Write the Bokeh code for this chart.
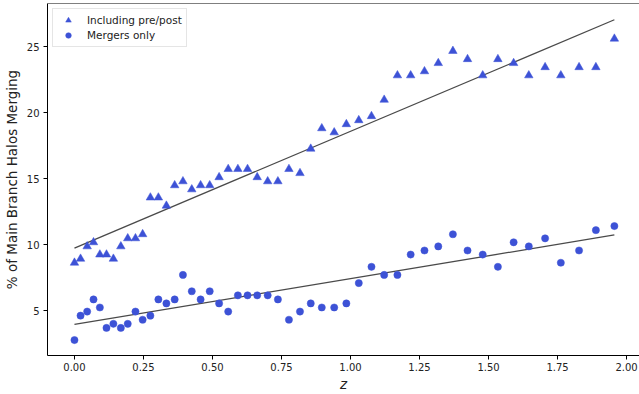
from bokeh.plotting import figure
from bokeh.models import Range1d, FixedTicker, PrintfTickFormatter, Span, Legend, LegendItem
from bokeh.embed import file_html
from bokeh.resources import INLINE

# ---- data ----
z = [0.000, 0.022, 0.046, 0.069, 0.092, 0.116, 0.141, 0.168, 0.193, 0.221,
     0.247, 0.275, 0.304, 0.333, 0.363, 0.393, 0.425, 0.457, 0.490, 0.524,
     0.557, 0.592, 0.627, 0.662, 0.700, 0.737, 0.777, 0.817, 0.856, 0.896,
     0.941, 0.985, 1.030, 1.076, 1.122, 1.170, 1.218, 1.268, 1.318, 1.371,
     1.424, 1.479, 1.534, 1.591, 1.646, 1.705, 1.762, 1.828, 1.889, 1.956]

including_prepost = [8.64, 8.94, 9.88, 10.19, 9.26, 9.26, 8.94, 9.88, 10.49, 10.49,
                     10.80, 13.58, 13.58, 12.96, 14.51, 14.81, 14.20, 14.51, 14.51, 15.12,
                     15.74, 15.74, 15.74, 15.12, 14.81, 14.81, 15.74, 15.43, 17.28, 18.83,
                     18.52, 19.14, 19.44, 19.75, 20.99, 22.84, 22.84, 23.15, 23.77, 24.69,
                     24.07, 22.84, 24.07, 23.77, 22.84, 23.46, 22.84, 23.46, 23.46, 25.62]

mergers_only = [2.78, 4.63, 4.94, 5.86, 5.25, 3.70, 4.01, 3.70, 4.01, 4.94,
                4.32, 4.63, 5.86, 5.56, 5.86, 7.72, 6.48, 5.86, 6.48, 5.56,
                4.94, 6.17, 6.17, 6.17, 6.17, 5.86, 4.32, 4.94, 5.56, 5.25,
                5.25, 5.56, 7.10, 8.33, 7.72, 7.72, 9.26, 9.57, 9.88, 10.80,
                9.57, 9.26, 8.33, 10.19, 9.88, 10.49, 8.64, 9.57, 11.11, 11.42]

fit_z = [0.0, 1.956]
fit_including = [9.75, 27.06]
fit_mergers = [3.97, 10.75]

x_ticks = [0.0, 0.25, 0.5, 0.75, 1.0, 1.25, 1.5, 1.75, 2.0]
y_ticks = [5, 10, 15, 20, 25]

labels = ["Including pre/post", "Mergers only"]

# ---- figure ----
BLUE = "#3d52d6"
FONT = "DejaVu Sans"

y_lo, y_hi = 1.61, 28.29
p = figure(width=639, height=394, output_backend="svg", toolbar_location=None,
           x_range=Range1d(-0.0977, 2.047), y_range=Range1d(y_lo, y_hi),
           min_border_left=46, min_border_right=0, min_border_top=3, min_border_bottom=37)
p.outline_line_color = None
p.xgrid.visible = False
p.ygrid.visible = False
p.background_fill_color = "white"
p.border_fill_color = "white"

p.line(fit_z, fit_including, line_color="#4a4a4a", line_width=1.3)
p.line(fit_z, fit_mergers, line_color="#4a4a4a", line_width=1.3)

r_tri = p.scatter(z, including_prepost, marker="triangle", size=8.5,
                  fill_color=BLUE, line_color=BLUE, line_width=0.5)
r_cir = p.scatter(z, mergers_only, marker="circle", size=7.2,
                  fill_color=BLUE, line_color=BLUE, line_width=0.5)

top = Span(location=y_hi, dimension="width", line_color="black", line_width=1.2)
p.add_layout(top)

for ax in (p.xaxis[0], p.yaxis[0]):
    ax.axis_line_color = "black"
    ax.axis_line_width = 1
    ax.major_tick_line_color = "black"
    ax.major_tick_out = 4
    ax.major_tick_in = 0
    ax.minor_tick_line_color = None
    ax.major_label_text_font = FONT
    ax.major_label_text_font_size = "10px"
    ax.major_label_text_color = "#222222"
    ax.axis_label_text_font = FONT
    ax.axis_label_text_font_size = "13.5px"
    ax.axis_label_text_color = "#222222"

p.xaxis.ticker = FixedTicker(ticks=x_ticks)
p.xaxis.formatter = PrintfTickFormatter(format="%.2f")
p.xaxis.major_label_standoff = 3
p.xaxis.axis_label = "z"
p.xaxis.axis_label_text_font_style = "italic"
p.xaxis.axis_label_standoff = 2

p.yaxis.ticker = FixedTicker(ticks=y_ticks)
p.yaxis.major_label_standoff = 4
p.yaxis.axis_label = "% of Main Branch Halos Merging"
p.yaxis.axis_label_text_font_style = "normal"
p.yaxis.axis_label_standoff = 4

legend = Legend(items=[LegendItem(label=labels[0], renderers=[r_tri]),
                       LegendItem(label=labels[1], renderers=[r_cir])],
                location="top_left")
legend.margin = 5
legend.padding = 4
legend.spacing = 1
legend.glyph_width = 22
legend.glyph_height = 14
legend.label_height = 14
legend.label_standoff = 8
legend.label_text_font = FONT
legend.label_text_font_size = "10.5px"
legend.label_text_color = "#222222"
legend.border_line_color = "#cccccc"
legend.border_line_width = 1
legend.background_fill_color = "white"
legend.background_fill_alpha = 0.8
p.add_layout(legend)

open("out.html", "w").write(file_html(p, INLINE))
